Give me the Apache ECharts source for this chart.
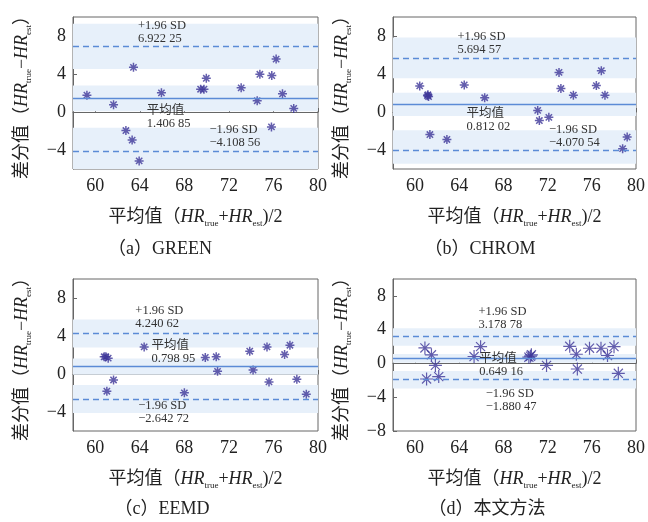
<!DOCTYPE html>
<html>
<head>
<meta charset="utf-8">
<script src="https://cdn.jsdelivr.net/npm/echarts@6/dist/echarts.min.js"></script>
<style>
  html, body { margin: 0; padding: 0; background: #fff; }
  #chart { width: 648px; height: 522px; }
</style>
</head>
<body>
<div id="chart"></div>
<script>
  // captions of the four sub plots
  const captions = ['（a）GREEN', '（b）CHROM', '（c）EEMD', '（d）本文方法']

  // (HR_true + HR_est)/2 and HR_true - HR_est
  const greenMean = [59.25, 61.64, 63.43, 62.75, 63.31, 63.94, 65.94, 69.46, 69.76, 69.97, 73.1, 74.54, 74.78, 76.24, 75.85, 75.82, 76.81, 77.82]
  const greenDiff = [1.77, 0.77, 4.70, -1.95, -2.96, -5.15, 2.02, 2.40, 2.40, 3.55, 2.54, 1.18, 3.97, 5.57, 3.83, -1.57, 1.91, 0.38]

  const chromMean = [60.42, 61.16, 61.22, 61.12, 61.34, 62.88, 64.45, 66.3, 71.1, 71.25, 72.11, 73.03, 73.2, 74.33, 76.41, 76.86, 77.19, 78.79, 79.2]
  const chromDiff = [2.75, 1.81, 1.63, 1.72, -2.37, -2.89, 2.85, 1.50, 0.17, -0.90, -0.56, 4.17, 2.47, 1.77, 2.78, 4.35, 1.77, -3.86, -2.64]

  const eemdMean = [60.8, 60.95, 61.16, 61.64, 61.04, 64.39, 68.0, 69.88, 70.86, 70.98, 73.87, 74.17, 75.42, 75.6, 77.0, 77.48, 78.1, 78.95]
  const eemdDiff = [1.81, 1.81, 1.67, -0.63, -1.81, 2.85, -1.98, 1.74, 1.81, 0.28, 2.40, 0.42, 2.85, -0.83, 2.05, 3.03, -0.56, -2.12]

  const oursMean = [60.89, 61.48, 61.84, 61.04, 62.14, 65.34, 65.93, 70.3, 70.53, 70.45, 71.9, 74.0, 74.6, 74.69, 75.79, 76.83, 77.42, 78.01, 78.4]
  const oursDiff = [1.84, 1.02, -0.23, -1.84, -1.56, 0.82, 1.99, 0.74, 1.02, 0.86, -0.23, 2.03, 1.09, -0.66, 1.80, 1.80, 0.94, 1.99, -1.17]

  // mean difference and limits of agreement (mean ± 1.96 SD)
  const meanDiff = [1.40685, 0.81202, 0.79895, 0.64916]
  const upperLoA = [6.92225, 5.69457, 4.24062, 3.17878]
  const lowerLoA = [-4.10856, -4.07054, -2.64272, -1.88047]

  // confidence bands around the three lines: [low, high]
  const upperBand = [[4.52, 9.29], [3.55, 7.83], [2.78, 5.74], [2.11, 4.18]]
  const meanBand = [[0.07, 2.78], [-0.42, 2.02], [-0.07, 1.63], [0.08, 1.13]]
  const lowerBand = [[-6.49, -1.67], [-5.46, -1.91], [-4.10, -1.15], [-2.97, -0.90]]

  // axis ticks
  const xTicks = [60, 64, 68, 72, 76, 80]
  const yTicks = [[-4, 0, 4, 8], [-4, 0, 4, 8], [-4, 0, 4, 8], [-8, -4, 0, 4, 8]]
  const yMin = [-6, -6, -6, -8]

  const panels = [
    [greenMean, greenDiff],
    [chromMean, chromDiff],
    [eemdMean, eemdDiff],
    [oursMean, oursDiff]
  ]

  // layout
  const grids = [
    { left: 73, top: 17, width: 245, height: 152 },
    { left: 393, top: 17, width: 245, height: 152 },
    { left: 73, top: 279, width: 245, height: 152 },
    { left: 393, top: 279, width: 245, height: 152 }
  ]
  // where the annotation blocks sit (data coords of left / middle)
  const notePos = [
    [[63.83, 8.35], [64.63, -0.5], [70.26, -2.6]],
    [[63.83, 7.29], [64.66, -0.9], [72.13, -2.6]],
    [[63.6, 5.93], [65.05, 2.29], [63.86, -4.07]],
    [[65.73, 5.4], [65.8, -0.22], [66.4, -4.33]]
  ]
  const captionPos = [[160, 249], [480, 249], [162, 509], [487, 509]]
  const markSize = [9, 9, 9, 13]

  const serif = '"Liberation Serif", "Noto Sans CJK SC", serif'
  const lineColor = '#5b8bd6'
  const bandColor = '#e7f0fa'
  const starColor = '#3d3699'
  const star = 'path://M0,5L10,5M5,0L5,10M1.5,1.5L8.5,8.5M1.5,8.5L8.5,1.5'

  const fmt = v => {
    const s = Math.abs(v).toFixed(5)
    const i = s.indexOf('.')
    return (v < 0 ? '−' : '') + s.slice(0, i + 4) + ' ' + s.slice(i + 4)
  }
  const minus = v => String(v).replace('-', '−')

  const nameRich = {
    n: { fontSize: 18, fontFamily: serif, color: '#222', lineHeight: 22 },
    i: { fontSize: 18, fontFamily: '"Liberation Serif", serif', fontStyle: 'italic', color: '#222', lineHeight: 22 },
    s: { fontSize: 9, fontFamily: '"Liberation Serif", serif', color: '#222', lineHeight: 10, verticalAlign: 'bottom' }
  }

  const chart = echarts.init(document.getElementById('chart'), null, { renderer: 'canvas' })

  const xAxis = grids.map((g, k) => ({
    type: 'value',
    gridIndex: k,
    min: 58,
    max: 80,
    name: '{n|平均值（}{i|HR}{s|true}{n|+}{i|HR}{s|est}{n|)/2}',
    nameLocation: 'middle',
    nameGap: 37,
    nameTextStyle: { rich: nameRich },
    axisLine: { show: true, lineStyle: { color: '#666', width: 1 } },
    axisTick: { show: true, inside: true, length: 4, customValues: xTicks, lineStyle: { color: '#666' } },
    axisLabel: { customValues: xTicks, margin: 8, fontSize: 18, fontFamily: serif, color: '#222' },
    splitLine: { show: false }
  }))

  const yAxis = grids.map((g, k) => ({
    type: 'value',
    gridIndex: k,
    min: yMin[k],
    max: 10,
    name: '{n|差分值（}{i|HR}{s|true}{n|−}{i|HR}{s|est}{n|）}',
    nameLocation: 'middle',
    nameGap: 40,
    nameRotate: 90,
    nameTextStyle: { rich: nameRich },
    axisLine: { show: true, lineStyle: { color: '#666', width: 1 } },
    axisTick: { show: true, inside: true, length: 4, customValues: yTicks[k], lineStyle: { color: '#666' } },
    axisLabel: { customValues: yTicks[k], margin: 7, fontSize: 18, fontFamily: serif, color: '#222', formatter: minus },
    splitLine: { show: false }
  }))

  const series = []
  panels.forEach((p, k) => {
    const notes = [
      '+1.96 SD\n' + fmt(upperLoA[k]),
      '平均值\n' + fmt(meanDiff[k]),
      '−1.96 SD\n' + fmt(lowerLoA[k])
    ]
    // bands, lines and notes
    series.push({
      type: 'line',
      xAxisIndex: k,
      yAxisIndex: k,
      data: [],
      z: 1,
      silent: true,
      markArea: {
        silent: true,
        itemStyle: { color: bandColor },
        data: [upperBand[k], meanBand[k], lowerBand[k]].map(b => [{ yAxis: Math.max(b[0], yMin[k]) }, { yAxis: Math.min(b[1], 10) }])
      },
      markLine: {
        silent: true,
        symbol: ['none', 'none'],
        label: { show: false },
        lineStyle: { color: lineColor, width: 1.3 },
        data: [
          { yAxis: meanDiff[k], lineStyle: { type: 'solid' } },
          { yAxis: upperLoA[k], lineStyle: { type: [6, 4] } },
          { yAxis: lowerLoA[k], lineStyle: { type: [6, 4] } }
        ]
      },
      markPoint: {
        silent: true,
        symbol: 'circle',
        symbolSize: 1,
        itemStyle: { color: 'rgba(0,0,0,0)' },
        label: {
          show: true,
          position: 'inside',
          align: 'left',
          verticalAlign: 'middle',
          fontSize: 12.5,
          lineHeight: 13,
          fontFamily: serif,
          color: '#333'
        },
        data: notePos[k].map((c, j) => ({ coord: c, label: { formatter: notes[j] } }))
      }
    })
    series.push({
      type: 'scatter',
      xAxisIndex: k,
      yAxisIndex: k,
      z: 3,
      symbol: star,
      symbolSize: markSize[k],
      itemStyle: { color: 'none', borderColor: starColor, borderWidth: k === 3 ? 1.2 : 1.5 },
      data: p[0].map((x, i) => [x, p[1][i]])
    })
  })

  chart.setOption({
    animation: false,
    backgroundColor: '#fff',
    grid: grids.map(g => Object.assign({ show: true, borderColor: '#666', borderWidth: 1, backgroundColor: '#fff' }, g)),
    xAxis: xAxis,
    yAxis: yAxis,
    series: series,
    graphic: captions.map((c, k) => ({
      type: 'text',
      x: captionPos[k][0],
      y: captionPos[k][1],
      style: { text: c, font: '18px ' + serif, fill: '#222', textAlign: 'center', textVerticalAlign: 'middle' }
    }))
  })
</script>
</body>
</html>
